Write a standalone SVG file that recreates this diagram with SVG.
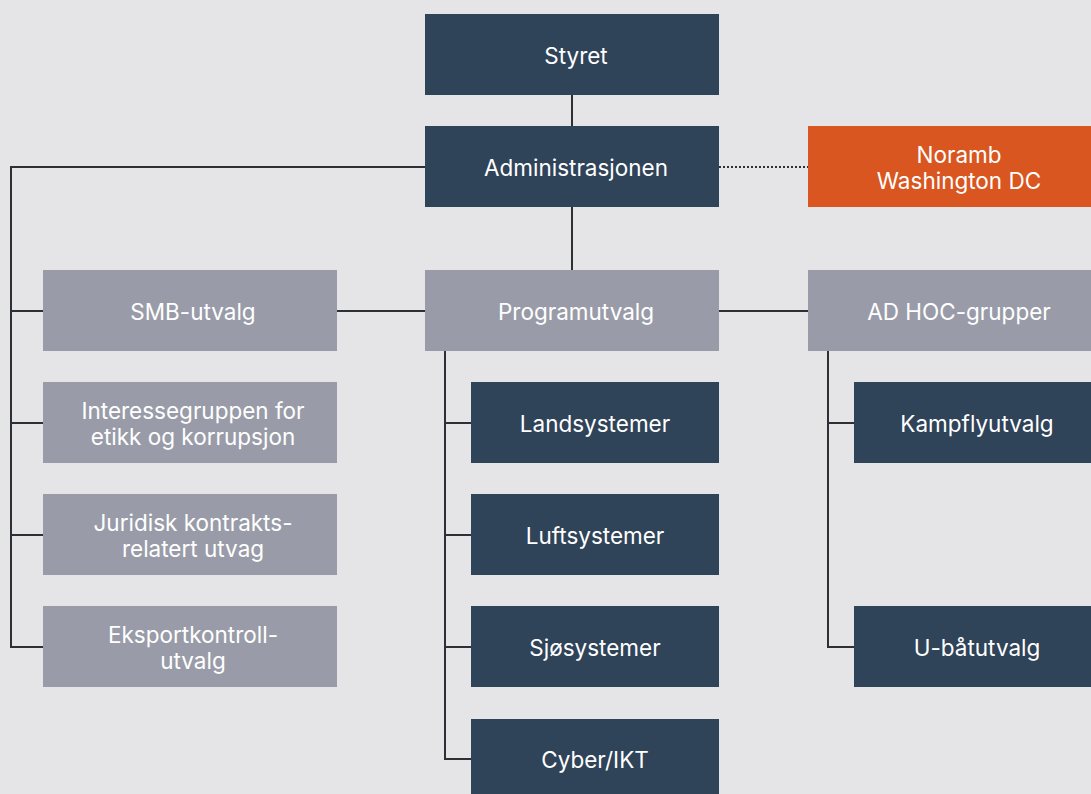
<svg xmlns="http://www.w3.org/2000/svg" width="1091" height="794" viewBox="0 0 1091 794">
<style>
.dark{fill:#2f4359}
.gray{fill:#999ca8}
.orange{fill:#d95620}
text{font-family:Inter,"Noto Sans",sans-serif;font-size:22.5px;fill:#ffffff;text-anchor:middle}
.ln{stroke:#2e3038;stroke-width:2;fill:none}
.dot{stroke:#2e3038;stroke-width:2;stroke-dasharray:2 2;fill:none}
</style>
<rect width="1091" height="794" fill="#e5e5e8"/>
<g id="connectors">
<line class="ln" x1="572" y1="95" x2="572" y2="126"/>
<line class="ln" x1="572" y1="207" x2="572" y2="270"/>
<polyline class="ln" points="425,167 11,167 11,647 43,647"/>
<line class="ln" x1="11" y1="311" x2="43" y2="311"/>
<line class="ln" x1="11" y1="423" x2="43" y2="423"/>
<line class="ln" x1="11" y1="535" x2="43" y2="535"/>
<line class="ln" x1="337" y1="311" x2="425" y2="311"/>
<line class="ln" x1="719" y1="311" x2="808" y2="311"/>
<line class="dot" x1="719" y1="167" x2="808" y2="167"/>
<polyline class="ln" points="445,351 445,759 471,759"/>
<line class="ln" x1="445" y1="423" x2="471" y2="423"/>
<line class="ln" x1="445" y1="535" x2="471" y2="535"/>
<line class="ln" x1="445" y1="647" x2="471" y2="647"/>
<polyline class="ln" points="828,351 828,647 854,647"/>
<line class="ln" x1="828" y1="423" x2="854" y2="423"/>
</g>
<g id="styret"><rect class="dark" x="425" y="14" width="294" height="81"/><text x="576" y="64">Styret</text></g>
<g id="administrasjonen"><rect class="dark" x="425" y="126" width="294" height="81"/><text x="576" y="176">Administrasjonen</text></g>
<g id="noramb"><rect class="orange" x="808" y="126" width="283" height="81"/><text x="959" y="163">Noramb</text><text x="959" y="189">Washington DC</text></g>
<g id="smb"><rect class="gray" x="43" y="270" width="294" height="81"/><text x="193" y="320">SMB-utvalg</text></g>
<g id="programutvalg"><rect class="gray" x="425" y="270" width="294" height="81"/><text x="576" y="320">Programutvalg</text></g>
<g id="adhoc"><rect class="gray" x="808" y="270" width="283" height="81"/><text x="959" y="320">AD HOC-grupper</text></g>
<g id="etikk"><rect class="gray" x="43" y="382" width="294" height="81"/><text x="193" y="419">Interessegruppen for</text><text x="193" y="445">etikk og korrupsjon</text></g>
<g id="juridisk"><rect class="gray" x="43" y="494" width="294" height="81"/><text x="193" y="531">Juridisk kontrakts-</text><text x="193" y="557">relatert utvag</text></g>
<g id="eksport"><rect class="gray" x="43" y="606" width="294" height="81"/><text x="193" y="643">Eksportkontroll-</text><text x="193" y="669">utvalg</text></g>
<g id="land"><rect class="dark" x="471" y="382" width="248" height="81"/><text x="595" y="432">Landsystemer</text></g>
<g id="luft"><rect class="dark" x="471" y="494" width="248" height="81"/><text x="595" y="544">Luftsystemer</text></g>
<g id="sjo"><rect class="dark" x="471" y="606" width="248" height="81"/><text x="595" y="656">Sjøsystemer</text></g>
<g id="cyber"><rect class="dark" x="471" y="719" width="248" height="81"/><text x="595" y="768">Cyber/IKT</text></g>
<g id="kampfly"><rect class="dark" x="854" y="382" width="237" height="81"/><text x="977" y="432">Kampflyutvalg</text></g>
<g id="ubat"><rect class="dark" x="854" y="606" width="237" height="81"/><text x="977" y="656">U-båtutvalg</text></g>
</svg>
